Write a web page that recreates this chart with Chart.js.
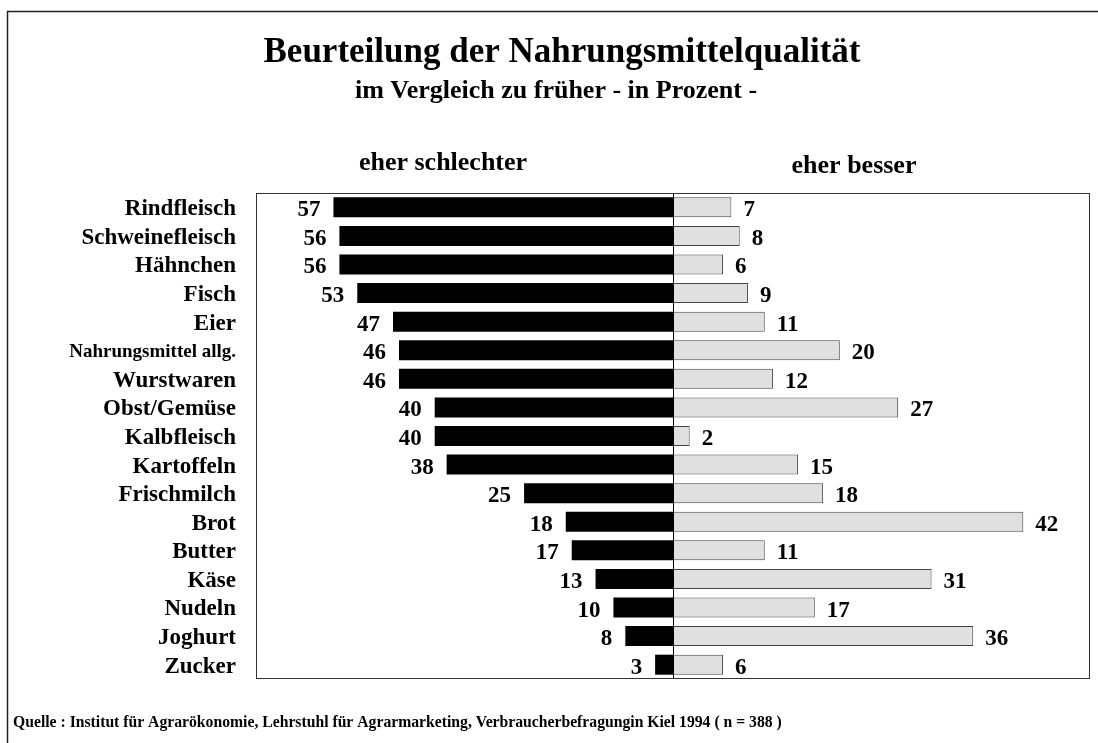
<!DOCTYPE html>
<html lang="de">
<head>
<meta charset="utf-8">
<title>Beurteilung der Nahrungsmittelqualität</title>
<script src="https://cdn.jsdelivr.net/npm/chart.js@4.4.1/dist/chart.umd.min.js"></script>
<style>
  html, body { margin: 0; padding: 0; background: #fff; }
  #wrap { width: 1098px; height: 743px; }
</style>
</head>
<body>
<div id="wrap"><canvas id="qualChart" width="1098" height="743"></canvas></div>
<script>
// Kategorien und Werte (in Prozent)
const kategorien = ['Rindfleisch', 'Schweinefleisch', 'Hähnchen', 'Fisch', 'Eier',
  'Nahrungsmittel allg.', 'Wurstwaren', 'Obst/Gemüse', 'Kalbfleisch', 'Kartoffeln',
  'Frischmilch', 'Brot', 'Butter', 'Käse', 'Nudeln', 'Joghurt', 'Zucker'];
const eherSchlechter = [57, 56, 56, 53, 47, 46, 46, 40, 40, 38, 25, 18, 17, 13, 10, 8, 3];
const eherBesser = [7, 8, 6, 9, 11, 20, 12, 27, 2, 15, 18, 42, 11, 31, 17, 36, 6];

const titel = 'Beurteilung der Nahrungsmittelqualität';
const untertitel = 'im Vergleich zu früher - in Prozent -';
const quelle = 'Quelle : Institut für Agrarökonomie, Lehrstuhl für Agrarmarketing, Verbraucherbefragungin Kiel 1994 ( n = 388 )';

const serif = "'Liberation Serif', 'Times New Roman', serif";

// Rahmen, Überschriften, Nulllinie und Werte zeichnen
const rahmenPlugin = {
  id: 'rahmen',
  beforeDraw(chart) {
    const ctx = chart.ctx;
    ctx.save();
    ctx.fillStyle = '#fff';
    ctx.fillRect(0, 0, chart.width, chart.height);

    // äußerer Rahmen (oben + links)
    ctx.strokeStyle = '#222';
    ctx.lineWidth = 1.5;
    ctx.beginPath();
    ctx.moveTo(chart.width, 11.5);
    ctx.lineTo(7.5, 11.5);
    ctx.lineTo(7.5, chart.height);
    ctx.stroke();

    ctx.fillStyle = '#000';
    ctx.textAlign = 'center';
    ctx.textBaseline = 'alphabetic';
    ctx.font = 'bold 35px ' + serif;
    ctx.fillText(titel, 562, 62);
    ctx.font = 'bold 26px ' + serif;
    ctx.fillText(untertitel, 556, 98);
    ctx.fillText('eher schlechter', 443, 170);
    ctx.fillText('eher besser', 854, 173);

    ctx.textAlign = 'left';
    ctx.font = 'bold 15.7px ' + serif;
    ctx.fillText(quelle, 13, 727);
    ctx.restore();
  },
  afterDatasetsDraw(chart) {
    const ctx = chart.ctx;
    const a = chart.chartArea;
    ctx.save();
    // Kasten um die Grafik
    ctx.strokeStyle = '#333';
    ctx.lineWidth = 1;
    ctx.strokeRect(Math.round(a.left) + 0.5, Math.round(a.top) + 0.5,
      Math.round(a.right - a.left) - 1, Math.round(a.bottom - a.top) - 1);
    // Nulllinie
    const x0 = Math.round(chart.scales.xR.getPixelForValue(0)) + 0.5;
    ctx.strokeStyle = '#000';
    ctx.beginPath();
    ctx.moveTo(x0, a.top);
    ctx.lineTo(x0, a.bottom);
    ctx.stroke();

    // Werte an die Balken
    ctx.fillStyle = '#000';
    ctx.font = 'bold 23px ' + serif;
    ctx.textBaseline = 'alphabetic';
    chart.getDatasetMeta(0).data.forEach((bar, i) => {
      ctx.textAlign = 'right';
      ctx.fillText(String(eherSchlechter[i]), bar.x - 13, bar.y + 9);
    });
    chart.getDatasetMeta(1).data.forEach((bar, i) => {
      ctx.textAlign = 'left';
      ctx.fillText(String(eherBesser[i]), bar.x + 12, bar.y + 9);
    });
    ctx.restore();
  }
};

document.addEventListener('DOMContentLoaded', function() {
  const ctx = document.getElementById('qualChart').getContext('2d');

  new Chart(ctx, {
    type: 'bar',
    data: {
      labels: kategorien,
      datasets: [{
        label: 'eher schlechter',
        data: eherSchlechter,
        xAxisID: 'xL',
        backgroundColor: '#000',
        borderWidth: 0
      }, {
        label: 'eher besser',
        data: eherBesser,
        xAxisID: 'xR',
        backgroundColor: '#e0e0e0',
        borderColor: '#444',
        borderWidth: 1,
        borderSkipped: false
      }]
    },
    options: {
      indexAxis: 'y',
      responsive: false,
      devicePixelRatio: 1,
      animation: false,
      grouped: false,
      barPercentage: 0.7,
      categoryPercentage: 1,
      layout: {
        padding: { left: 0, top: 193, right: 8, bottom: 64 }
      },
      plugins: {
        legend: { display: false },
        tooltip: { enabled: false }
      },
      scales: {
        xL: {
          type: 'linear',
          position: 'bottom',
          stack: 'x',
          stackWeight: 1,
          reverse: true,
          min: 0,
          max: 70,
          display: false
        },
        xR: {
          type: 'linear',
          position: 'bottom',
          stack: 'x',
          stackWeight: 1,
          min: 0,
          max: 50,
          display: false
        },
        y: {
          type: 'category',
          position: 'left',
          grid: { display: false, drawTicks: false },
          border: { display: false },
          ticks: {
            color: '#000',
            padding: 20,
            autoSkip: false,
            labelOffset: 2,
            // das lange Label ist im Original schmaler gesetzt
            font: (c) => ({
              family: serif,
              size: kategorien[c.index] === 'Nahrungsmittel allg.' ? 19 : 23,
              weight: 'bold'
            })
          },
          afterFit(scale) {
            scale.width = 256;
          }
        }
      }
    },
    plugins: [rahmenPlugin]
  });
});
</script>
</body>
</html>
